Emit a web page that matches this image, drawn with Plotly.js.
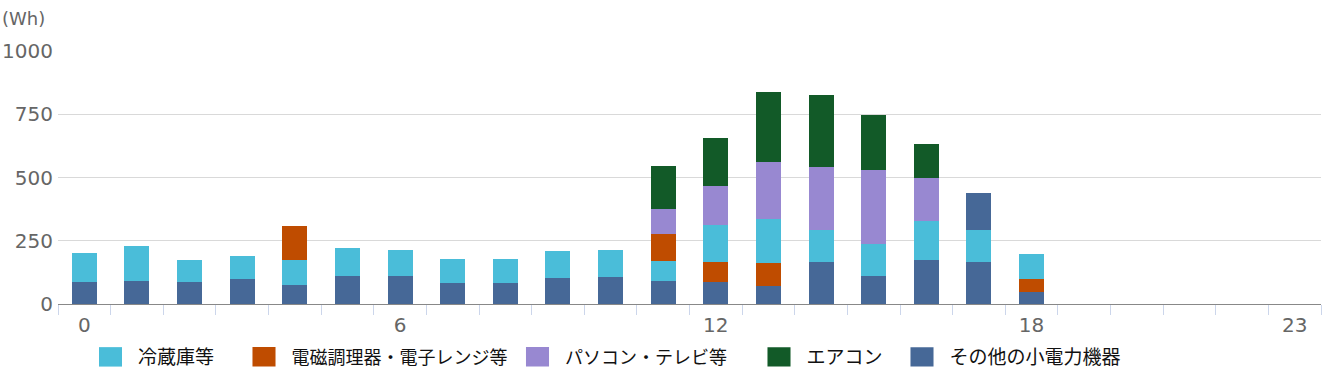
<!DOCTYPE html>
<html>
<head>
<meta charset="utf-8">
<script src="https://cdn.plot.ly/plotly-3.0.1.min.js"></script>
<style>html,body{margin:0;padding:0;background:#fff;}#chart{width:1331px;height:380px;}</style>
</head>
<body>
<div id="chart"></div>
<script>
// ---- data (Wh per hour) ----
const hours = [0,1,2,3,4,5,6,7,8,9,10,11,12,13,14,15,16,17,18,19,20,21,22,23];
const tickHours = [0, 6, 12, 18, 23];
const seriesNames = ['冷蔵庫等', '電磁調理器・電子レンジ等', 'パソコン・テレビ等', 'エアコン', 'その他の小電力機器'];
const fridge   = [115,139,87,91,99,111,103,95,95,107,107,79,147,174,127,126,153,127,99,0,0,0,0,0];
const cooking  = [0,0,0,0,135,0,0,0,0,0,0,107,79,91,0,0,0,0,51,0,0,0,0,0];
const pcTv     = [0,0,0,0,0,0,0,0,0,0,0,99,154,226,249,293,171,0,0,0,0,0,0,0];
const aircon   = [0,0,0,0,0,0,0,0,0,0,0,170,189,276,284,217,135,0,0,0,0,0,0,0];
const other    = [88,92,88,100,76,112,112,84,84,104,108,92,88,72,167,112,175,167,49,0,0,0,0,0];
const otherUpper = [0,0,0,0,0,0,0,0,0,0,0,0,0,0,0,0,0,146,0,0,0,0,0,0];
// hours in which the cooking segment is stacked under the fridge segment
const cookingBelowFridge = [12, 13, 18];

const colors = {fridge:'#4abdd9', cooking:'#bf4c00', pc:'#9888d1', aircon:'#125a28', other:'#466897'};

const cookingLow  = hours.map((h,i) => cookingBelowFridge.includes(h) ? cooking[i] : 0);
const cookingHigh = hours.map((h,i) => cookingBelowFridge.includes(h) ? 0 : cooking[i]);

function bar(y, name, color, legend, show, rank) {
  return {type:'bar', x:hours, y:y, name:name, marker:{color:color, line:{width:0}},
          legend:legend, showlegend:show, legendrank:rank, hoverinfo:'name+y'};
}
const traces = [
  bar(other, seriesNames[4], colors.other, 'legend5', true, 5),
  bar(cookingLow, seriesNames[1], colors.cooking, 'legend2', false, 2),
  bar(fridge, seriesNames[0], colors.fridge, 'legend', true, 1),
  bar(cookingHigh, seriesNames[1], colors.cooking, 'legend2', true, 2),
  bar(pcTv, seriesNames[2], colors.pc, 'legend3', true, 3),
  bar(aircon, seriesNames[3], colors.aircon, 'legend4', true, 4),
  bar(otherUpper, seriesNames[4], colors.other, 'legend5', false, 5)
];

function leg(x, size){ return {x:x, y:0.0605, xref:'container', yref:'container', xanchor:'left', yanchor:'middle',
  orientation:'h', font:{family:'"Noto Sans CJK JP", sans-serif', size:size, color:'#111'},
  bgcolor:'rgba(0,0,0,0)', borderwidth:0, itemwidth:45}; }

const layout = {
  width:1331, height:380,
  margin:{l:58, r:10, t:51, b:76, pad:0},
  paper_bgcolor:'#fff', plot_bgcolor:'#fff',
  barmode:'stack', bargap:0.525,
  font:{family:'"DejaVu Sans", sans-serif', color:'#666'},
  xaxis:{type:'linear', range:[-0.5, 23.5], tickmode:'array', tickvals:tickHours,
         ticktext:tickHours.map(String), ticks:'', showgrid:false, zeroline:false,
         showline:true, linecolor:'#888', linewidth:1,
         tickfont:{size:20, color:'#666'}, ticklabelstandoff:3,
         minor:{ticks:'outside', tickmode:'linear', tick0:-0.5, dtick:1, ticklen:10, tickwidth:1, tickcolor:'#ccd6eb', showgrid:false},
         fixedrange:true},
  yaxis:{range:[0,1000], tickmode:'array', tickvals:[0,250,500,750,1000], ticks:'',
         showgrid:true, gridcolor:'#d9d9d9', gridwidth:1, zeroline:false, showline:false,
         tickfont:{size:20, color:'#666'}, ticklabelstandoff:4, fixedrange:true},
  annotations:[{text:'(Wh)', xref:'paper', yref:'paper', x:-58/1263, y:(304.3-19)/253, xanchor:'left', yanchor:'middle',
                showarrow:false, font:{size:18, color:'#666'}}],
  legend: leg(83/1331, 19), legend2: leg(236.5/1331, 18), legend3: leg(510/1331, 18),
  legend4: leg(751.5/1331, 19), legend5: leg(894.5/1331, 19)
};
Plotly.newPlot('chart', traces, layout, {displayModeBar:false, staticPlot:true}).then(gd => {
  // enlarge the legend swatches to the reference's size
  gd.querySelectorAll('.legendpoints path').forEach(p => {
    const t = p.getAttribute('transform') || '';
    p.setAttribute('transform', t + ' scale(1.92,1.62)');
  });
});
</script>
</body>
</html>
